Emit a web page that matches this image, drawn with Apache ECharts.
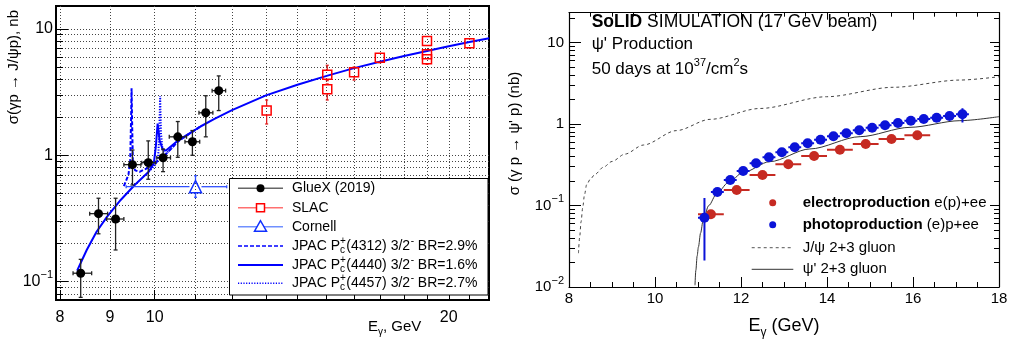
<!DOCTYPE html>
<html><head><meta charset="utf-8">
<script src="https://cdn.jsdelivr.net/npm/echarts@6/dist/echarts.min.js"></script>
<style>html,body{margin:0;padding:0;background:#fff}#c{width:1011px;height:340px}</style>
</head><body><div id="c"></div>
<script>
// ================= LEFT PANEL DATA =================
const gluexE       = [8.40, 8.76, 9.12, 9.49, 9.85, 10.20, 10.56, 10.93, 11.28, 11.63];
const gluexSigma   = [0.1165, 0.345, 0.313, 0.843, 0.874, 0.957, 1.40, 1.28, 2.17, 3.25];
const gluexSigmaLo = [0.075, 0.239, 0.178, 0.582, 0.646, 0.742, 0.964, 1.00, 1.40, 2.26];
const gluexSigmaHi = [0.150, 0.457, 0.457, 1.10, 1.30, 1.12, 1.85, 1.57, 2.96, 4.25];
const gluexELo     = [8.25, 8.58, 8.93, 9.30, 9.70, 10.05, 10.35, 10.74, 11.10, 11.45];
const gluexEHi     = [8.62, 8.95, 9.30, 9.68, 10.02, 10.38, 10.78, 11.12, 11.47, 11.82];

const slacE       = [13.02, 15.02, 15.02, 16.0, 17.0, 19.0, 19.0, 19.0, 21.0];
const slacSigma   = [2.26, 4.35, 3.33, 4.54, 5.93, 8.03, 6.31, 5.75, 7.70];
const slacSigmaLo = [1.77, 3.90, 2.74, 3.94, 5.40, 7.50, 5.85, 5.25, 7.20];
const slacSigmaHi = [2.74, 5.16, 3.67, 5.00, 6.40, 8.60, 6.80, 6.20, 8.20];

const cornellE       = [11.01];
const cornellSigma   = [0.564];
const cornellSigmaLo = [0.465];
const cornellSigmaHi = [0.689];
const cornellELo     = [9.35];
const cornellEHi     = [11.85];

const jpac4440E     = [8.33, 8.52, 8.72, 8.94, 9.23, 9.54, 9.86, 9.98, 10.03, 10.07, 10.12, 10.19, 10.27, 10.58, 11.14, 11.5, 12.0, 13.0, 14.0, 15.0, 16.0, 17.0, 18.0, 19.0, 20.0, 21.0, 22.0];
const jpac4440Sigma = [0.122, 0.178, 0.248, 0.327, 0.443, 0.582, 0.742, 0.86, 1.20, 1.78, 1.30, 1.12, 1.09, 1.32, 1.69, 1.93, 2.28, 2.98, 3.62, 4.25, 4.90, 5.50, 6.10, 6.70, 7.30, 7.90, 8.45];
const jpac4312E     = [9.30, 9.40, 9.44, 9.46, 9.47, 9.48, 9.50, 9.55, 9.65, 9.86, 10.0, 10.27, 10.58, 11.14];
const jpac4312Sigma = [0.57, 0.70, 0.90, 2.0, 3.4, 2.0, 0.85, 0.76, 0.74, 0.80, 0.86, 1.02, 1.30, 1.69];
const jpac4457E     = [9.86, 10.0, 10.08, 10.11, 10.13, 10.15, 10.19, 10.27, 10.58, 11.14];
const jpac4457Sigma = [0.742, 0.83, 0.93, 1.5, 2.95, 1.5, 1.08, 1.03, 1.30, 1.69];

const leftXGridTicks = [8, 9, 10, 11, 12, 13, 14, 15, 16, 17, 18, 19, 20, 21];
const leftXLabels    = [8, 9, 10, 20];
const leftYGridTicks = [0.08, 0.09, 0.1, 0.2, 0.3, 0.4, 0.5, 0.6, 0.7, 0.8, 0.9, 1, 2, 3, 4, 5, 6, 7, 8, 9, 10];
const leftYLabels    = [0.1, 1, 10];
const leftLegendNames = ['GlueX (2019)', 'SLAC', 'Cornell'];
const jpacStates = ['4312', '4440', '4457'];
const jpacBR     = ['2.9%', '1.6%', '2.7%'];

// ================= RIGHT PANEL DATA =================
const photoE       = [11.15, 11.45, 11.75, 12.05, 12.35, 12.65, 12.95, 13.25, 13.55, 13.85, 14.15, 14.45, 14.75, 15.05, 15.35, 15.65, 15.95, 16.25, 16.55, 16.85, 17.15];
const photoSigma   = [0.0709, 0.1465, 0.2056, 0.265, 0.3295, 0.390, 0.4496, 0.5177, 0.580, 0.642, 0.7066, 0.769, 0.837, 0.901, 0.964, 1.029, 1.098, 1.152, 1.195, 1.254, 1.315];
const photoSigmaLo = [0.0212, 0.140, 0.199, 0.258, 0.322, 0.382, 0.441, 0.508, 0.570, 0.631, 0.694, 0.756, 0.823, 0.886, 0.948, 1.011, 1.078, 1.131, 1.172, 1.227, 1.04];
const photoSigmaHi = [0.124, 0.153, 0.212, 0.272, 0.337, 0.398, 0.458, 0.527, 0.590, 0.653, 0.719, 0.782, 0.851, 0.916, 0.980, 1.047, 1.118, 1.173, 1.218, 1.281, 1.56];
const photoELo     = [11.00, 11.30, 11.60, 11.90, 12.20, 12.50, 12.80, 13.10, 13.40, 13.70, 14.00, 14.30, 14.60, 14.90, 15.20, 15.50, 15.80, 16.10, 16.40, 16.70, 17.00];
const photoEHi     = [11.30, 11.60, 11.90, 12.20, 12.50, 12.80, 13.10, 13.40, 13.70, 14.00, 14.30, 14.60, 14.90, 15.20, 15.50, 15.80, 16.10, 16.40, 16.70, 17.00, 17.30];

const electroE       = [11.3, 11.9, 12.5, 13.1, 13.7, 14.3, 14.9, 15.5, 16.1];
const electroSigma   = [0.078, 0.155, 0.237, 0.320, 0.405, 0.484, 0.568, 0.655, 0.727];
const electroSigmaLo = [0.070, 0.149, 0.229, 0.311, 0.394, 0.472, 0.555, 0.640, 0.711];
const electroSigmaHi = [0.087, 0.161, 0.245, 0.329, 0.416, 0.496, 0.581, 0.670, 0.743];
const electroELo     = [11.0, 11.6, 12.2, 12.8, 13.4, 14.0, 14.6, 15.2, 15.8];
const electroEHi     = [11.6, 12.2, 12.8, 13.4, 14.0, 14.6, 15.2, 15.8, 16.4];

const jpsiE     = [8.22, 8.25, 8.28, 8.32, 8.36, 8.41, 8.50, 8.60, 8.80, 9.00, 9.30, 9.73, 10.50, 11.28, 12.44, 13.99, 15.54, 17.09, 18.0];
const jpsiSigma = [0.026, 0.042, 0.063, 0.095, 0.135, 0.180, 0.212, 0.24, 0.295, 0.347, 0.427, 0.552, 0.83, 1.14, 1.55, 2.16, 2.82, 3.46, 3.80];
const psi2sE     = [10.93, 10.95, 10.98, 11.01, 11.06, 11.12, 11.25, 11.43, 11.70, 12.05, 12.67, 13.60, 14.77, 15.93, 17.09, 18.0];
const psi2sSigma = [0.0105, 0.016, 0.024, 0.031, 0.046, 0.066, 0.10, 0.138, 0.19, 0.255, 0.345, 0.494, 0.699, 0.91, 1.098, 1.23];

const rightYMinorTicks = [0.02,0.03,0.04,0.05,0.06,0.07,0.08,0.09,0.2,0.3,0.4,0.5,0.6,0.7,0.8,0.9,2,3,4,5,6,7,8,9,20];
const rightYLabels = [0.01, 0.1, 1, 10];

// ================= BUILD =================
const FONT = 'Liberation Sans';
const chart = echarts.init(document.getElementById('c'), null, {renderer: 'canvas', width: 1011, height: 340});
const ctx = document.createElement('canvas').getContext('2d');
function tw(t, size, weight) { ctx.font = (weight || 'normal') + ' ' + size + 'px "' + FONT + '"'; return ctx.measureText(t).width; }

const zip = (a, b) => a.map((v, i) => [v, b[i]]);

function errSeries(xi, yi, E, S, Slo, Shi, Elo, Ehi, color, lw, gap, cap) {
  return {
    type: 'custom', xAxisIndex: xi, yAxisIndex: yi, clip: true, silent: true, z: 3,
    data: E.map((e, i) => [e, S[i], Slo[i], Shi[i], Elo[i], Ehi[i]]),
    renderItem(params, api) {
      const c = api.coord([api.value(0), api.value(1)]);
      const lo = api.coord([api.value(0), api.value(2)]);
      const hi = api.coord([api.value(0), api.value(3)]);
      const l = api.coord([api.value(4), api.value(1)]);
      const r = api.coord([api.value(5), api.value(1)]);
      const st = {stroke: color, lineWidth: lw};
      const ch = [];
      const seg = (x1, y1, x2, y2) => ch.push({type: 'line', shape: {x1, y1, x2, y2}, style: st});
      if (hi[1] < c[1] - gap) { seg(c[0], hi[1], c[0], c[1] - gap); if (cap) seg(c[0] - cap, hi[1], c[0] + cap, hi[1]); }
      if (lo[1] > c[1] + gap) { seg(c[0], c[1] + gap, c[0], lo[1]); if (cap) seg(c[0] - cap, lo[1], c[0] + cap, lo[1]); }
      if (l[0] < c[0] - gap) { seg(l[0], c[1], c[0] - gap, c[1]); if (cap) seg(l[0], c[1] - cap, l[0], c[1] + cap); }
      if (r[0] > c[0] + gap) { seg(c[0] + gap, c[1], r[0], c[1]); if (cap) seg(r[0], c[1] - cap, r[0], c[1] + cap); }
      return {type: 'group', children: ch};
    }
  };
}
function lineSeries(xi, yi, E, S, color, width, type, smooth) {
  return {type: 'line', xAxisIndex: xi, yAxisIndex: yi, data: zip(E, S), symbol: 'none', showSymbol: false,
    clip: true, silent: true, smooth: smooth || false, smoothMonotone: 'x', z: 2,
    lineStyle: {color, width, type}};
}
function scatterSeries(xi, yi, E, S, symbol, size, fill, stroke, bw) {
  return {type: 'scatter', xAxisIndex: xi, yAxisIndex: yi, data: zip(E, S), symbol, symbolSize: size,
    silent: true, clip: true, z: 4,
    itemStyle: {color: fill, borderColor: stroke, borderWidth: bw, opacity: 1}};
}
function logLabel(v) {
  const e = Math.round(Math.log10(v));
  if (e < 0) return '{b|10}{s|\u2212' + (-e) + '}';
  return '{b|' + Math.round(v) + '}';
}
const tickStyle = {color: '#000', width: 1};

// Left panel extents
const LX = [7.925, 21.99], LY = [0.0715, 15.2];
const RY = [0.01, 23.2];

const xAxes = [
  {gridIndex: 0, type: 'log', min: LX[0], max: LX[1], position: 'bottom',
    axisLine: {show: true, onZero: false, lineStyle: {color: '#000', width: 2}},
    axisTick: {show: true, inside: true, length: 5, customValues: leftXGridTicks, lineStyle: tickStyle},
    axisLabel: {show: true, customValues: leftXLabels, formatter: v => String(Math.round(v)), fontSize: 16, color: '#000', margin: 10, fontFamily: FONT},
    splitLine: {show: true, lineStyle: {color: '#444', width: 1, type: [1, 2]}}},
  {gridIndex: 0, type: 'log', min: LX[0], max: LX[1], position: 'bottom',
    axisLine: {show: false}, axisTick: {show: true, inside: true, length: 10, customValues: leftXLabels, lineStyle: tickStyle},
    axisLabel: {show: false}, splitLine: {show: false}},
  {gridIndex: 1, type: 'value', min: 8, max: 18, interval: 2, position: 'bottom',
    axisLine: {show: true, onZero: false, lineStyle: {color: '#000', width: 1.2}},
    axisTick: {show: true, inside: true, length: 10, lineStyle: tickStyle},
    minorTick: {show: true, splitNumber: 4, length: 5, lineStyle: tickStyle},
    axisLabel: {show: true, fontSize: 15, color: '#000', margin: 4, fontFamily: FONT},
    splitLine: {show: false}, minorSplitLine: {show: false}},
  {gridIndex: 1, type: 'value', min: 8, max: 18, interval: 2, position: 'top',
    axisLine: {show: true, onZero: false, lineStyle: {color: '#000', width: 1.2}},
    axisTick: {show: true, inside: true, length: 7, lineStyle: tickStyle},
    minorTick: {show: true, splitNumber: 4, length: 4, lineStyle: tickStyle},
    axisLabel: {show: false}, splitLine: {show: false}, minorSplitLine: {show: false}}
];
const yAxes = [
  {gridIndex: 0, type: 'log', min: LY[0], max: LY[1], position: 'left',
    axisLine: {show: true, onZero: false, lineStyle: {color: '#000', width: 2}},
    axisTick: {show: true, inside: true, length: 7, customValues: leftYGridTicks, lineStyle: tickStyle},
    axisLabel: {show: true, customValues: leftYLabels, formatter: logLabel, margin: 3, color: '#000',
      rich: {b: {fontSize: 16, lineHeight: 24, fontFamily: FONT, color: '#000'},
             s: {fontSize: 11, lineHeight: 10, verticalAlign: 'top', fontFamily: FONT, color: '#000'}}},
    splitLine: {show: true, lineStyle: {color: '#444', width: 1, type: [1, 2]}}},
  {gridIndex: 0, type: 'log', min: LY[0], max: LY[1], position: 'left',
    axisLine: {show: false}, axisTick: {show: true, inside: true, length: 12, customValues: leftYLabels, lineStyle: tickStyle},
    axisLabel: {show: false}, splitLine: {show: false}},
  {gridIndex: 1, type: 'log', min: RY[0], max: RY[1], position: 'left',
    axisLine: {show: true, onZero: false, lineStyle: {color: '#000', width: 1.2}},
    axisTick: {show: true, inside: true, length: 6, customValues: rightYMinorTicks, lineStyle: tickStyle},
    axisLabel: {show: true, customValues: rightYLabels, formatter: logLabel, margin: 5, color: '#000',
      rich: {b: {fontSize: 15, lineHeight: 24, fontFamily: FONT, color: '#000'},
             s: {fontSize: 11, lineHeight: 10, verticalAlign: 'top', fontFamily: FONT, color: '#000'}}},
    splitLine: {show: false}},
  {gridIndex: 1, type: 'log', min: RY[0], max: RY[1], position: 'left',
    axisLine: {show: false}, axisTick: {show: true, inside: true, length: 12, customValues: rightYLabels, lineStyle: tickStyle},
    axisLabel: {show: false}, splitLine: {show: false}},
  {gridIndex: 1, type: 'log', min: RY[0], max: RY[1], position: 'right',
    axisLine: {show: true, onZero: false, lineStyle: {color: '#000', width: 1.2}},
    axisTick: {show: true, inside: true, length: 5, customValues: rightYMinorTicks, lineStyle: tickStyle},
    axisLabel: {show: false}, splitLine: {show: false}},
  {gridIndex: 1, type: 'log', min: RY[0], max: RY[1], position: 'right',
    axisLine: {show: false}, axisTick: {show: true, inside: true, length: 9, customValues: rightYLabels, lineStyle: tickStyle},
    axisLabel: {show: false}, splitLine: {show: false}}
];

const RED = '#c62a22', BLUE = '#0b13d8', JBLUE = '#0000ff';
const series = [
  lineSeries(0, 0, jpac4312E, jpac4312Sigma, JBLUE, 2, [4, 2]),
  lineSeries(0, 0, jpac4457E, jpac4457Sigma, JBLUE, 2, [1.2, 1.5]),
  lineSeries(0, 0, jpac4440E, jpac4440Sigma, JBLUE, 2, 'solid'),
  errSeries(0, 0, gluexE, gluexSigma, gluexSigmaLo, gluexSigmaHi, gluexELo, gluexEHi, '#222', 1.3, 0, 2),
  scatterSeries(0, 0, gluexE, gluexSigma, 'circle', 9, '#000', '#000', 0),
  errSeries(0, 0, slacE, slacSigma, slacSigmaLo, slacSigmaHi, slacE, slacE, '#e02020', 1.3, 4.5, 1.5),
  scatterSeries(0, 0, slacE, slacSigma, 'rect', 9, 'rgba(255,255,255,0)', '#ff0000', 1.5),
  errSeries(0, 0, cornellE, cornellSigma, cornellSigmaLo, cornellSigmaHi, cornellELo, cornellEHi, '#3050ff', 1.3, 6, 1.5),
  scatterSeries(0, 0, cornellE, cornellSigma, 'triangle', 12, 'rgba(255,255,255,0)', '#1030ff', 1.5),

  lineSeries(2, 2, jpsiE, jpsiSigma, '#444', 1, [3, 3], 0.3),
  lineSeries(2, 2, psi2sE, psi2sSigma, '#333', 1, 'solid', 0.3),
  errSeries(2, 2, electroE, electroSigma, electroSigmaLo, electroSigmaHi, electroELo, electroEHi, RED, 2, 0, 0),
  scatterSeries(2, 2, electroE, electroSigma, 'circle', 10, RED, RED, 0),
  errSeries(2, 2, photoE, photoSigma, photoSigmaLo, photoSigmaHi, photoELo, photoEHi, BLUE, 2, 0, 0),
  scatterSeries(2, 2, photoE, photoSigma, 'circle', 10, BLUE, BLUE, 0)
];

// ---------- graphic (legends, titles, annotations) ----------
function txt(x, y, text, size, o) {
  o = o || {};
  const st = {text, fontSize: size, fontFamily: FONT, fill: '#000', fontWeight: o.weight || 'normal',
    align: o.align || 'left', verticalAlign: o.va || 'middle', textAlign: o.align || 'left', textVerticalAlign: o.va || 'middle'};
  if (o.rich) { st.rich = o.rich; st.lineHeight = o.lh || 24; }
  return {type: 'text', x, y, rotation: o.rot || 0, silent: true, z: 101, style: st};
}
function ln(x1, y1, x2, y2, stroke, w, dash) {
  return {type: 'line', silent: true, z: 101, shape: {x1, y1, x2, y2}, style: {stroke, lineWidth: w, lineDash: dash || null}};
}
const G = [];
// left legend
const LG = {x: 229.5, y: 178.5, w: 258.5, h: 116.5, rows: [188.3, 207.7, 226.7, 246, 265, 283.3], lx1: 238, lx2: 283, tx: 292};
G.push({type: 'rect', silent: true, z: 100, shape: {x: LG.x, y: LG.y, width: LG.w, height: LG.h}, style: {fill: '#fff', stroke: '#000', lineWidth: 1}});
const mx = (LG.lx1 + LG.lx2) / 2;
let ry = LG.rows;
G.push(ln(LG.lx1, ry[0], LG.lx2, ry[0], '#666', 1.5));
G.push({type: 'circle', silent: true, z: 102, shape: {cx: mx, cy: ry[0], r: 4}, style: {fill: '#000'}});
G.push(ln(LG.lx1, ry[1], LG.lx2, ry[1], '#ff7070', 1.5));
G.push({type: 'rect', silent: true, z: 102, shape: {x: mx - 4, y: ry[1] - 4, width: 8, height: 8}, style: {fill: '#fff', stroke: '#ff0000', lineWidth: 1.5}});
G.push(ln(LG.lx1, ry[2], LG.lx2, ry[2], '#7090ff', 1.5));
G.push({type: 'polygon', silent: true, z: 102, shape: {points: [[mx, ry[2] - 6], [mx - 6, ry[2] + 4.5], [mx + 6, ry[2] + 4.5]]}, style: {fill: '#fff', stroke: '#1030ff', lineWidth: 1.5}});
G.push(ln(LG.lx1, ry[3], LG.lx2, ry[3], JBLUE, 1.5, [4, 2]));
G.push(ln(LG.lx1, ry[4], LG.lx2, ry[4], JBLUE, 2));
G.push(ln(LG.lx1, ry[5], LG.lx2, ry[5], JBLUE, 1.5, [1.2, 1.5]));
for (let i = 0; i < 3; i++) G.push(txt(LG.tx, ry[i], leftLegendNames[i], 14));
for (let i = 0; i < 3; i++) {
  const y = ry[3 + i];
  let cx = LG.tx;
  const f = 14, fs = 10;
  G.push(txt(cx, y, 'JPAC P', f)); cx += tw('JPAC P', f);
  G.push(txt(cx, y + 4, 'c', fs)); G.push(txt(cx, y - 5, '+', fs));
  cx += Math.max(tw('c', fs), tw('+', fs)) + 0.5;
  const mid = '(' + jpacStates[i] + ') 3/2';
  G.push(txt(cx, y, mid, f)); cx += tw(mid, f);
  G.push(txt(cx + 0.5, y - 5, '-', fs)); cx += tw('-', fs) + 0.5;
  G.push(txt(cx, y, ' BR=' + jpacBR[i], f));
}
// left titles
G.push(txt(14, 10, '\u03c3(\u03b3p \u2192 J/\u03c8p), nb', 15, {rot: Math.PI / 2, align: 'right'}));
G.push(txt(368, 326.7, 'E{sub|\u03b3}, GeV', 15, {rich: {sub: {fontSize: 10, lineHeight: 13, verticalAlign: 'bottom', fontFamily: FONT}}, lh: 22}));
// right titles
G.push(txt(515, 71.7, "\u03c3 (\u03b3 p \u2192 \u03c8' p) (nb)", 15, {rot: Math.PI / 2, align: 'right'}));
G.push(txt(784, 326, 'E{sub|\u03b3} (GeV)', 18, {align: 'center', rich: {sub: {fontSize: 12, lineHeight: 14, verticalAlign: 'bottom', fontFamily: FONT}}, lh: 26}));
// right annotations
const boldRich = {bold: {fontWeight: 'bold', fontSize: 17.5, fontFamily: FONT}};
const supRich = {s: {fontSize: 11, lineHeight: 10, verticalAlign: 'top', fontFamily: FONT}};
G.push(txt(591.7, 22.5, '{bold|SoLID} SIMULATION (17 GeV beam)', 17.5, {rich: boldRich}));
G.push(txt(591.7, 44.3, "\u03c8' Production", 17));
G.push(txt(591.7, 69.5, '50 days at 10{s|37}/cm{s|2}s', 17, {rich: supRich}));
// right legend
const RL = {dx: 772.7, lx1: 751.7, lx2: 793.3, tx: 802.7, rows: [202.8, 224.8, 247.7, 269.3]};
const legRich = {bold: {fontWeight: 'bold', fontSize: 15, fontFamily: FONT}};
G.push({type: 'circle', silent: true, z: 102, shape: {cx: RL.dx, cy: RL.rows[0], r: 3.5}, style: {fill: RED}});
G.push({type: 'circle', silent: true, z: 102, shape: {cx: RL.dx, cy: RL.rows[1], r: 3.5}, style: {fill: BLUE}});
G.push(ln(RL.lx1, RL.rows[2], RL.lx2, RL.rows[2], '#555', 1, [3, 3]));
G.push(ln(RL.lx1, RL.rows[3], RL.lx2, RL.rows[3], '#333', 1));
G.push(txt(RL.tx, RL.rows[0], '{bold|electroproduction} e(p)+ee', 15, {rich: legRich}));
G.push(txt(RL.tx, RL.rows[1], '{bold|photoproduction} (e)p+ee', 15, {rich: legRich}));
G.push(txt(RL.tx, RL.rows[2], 'J/\u03c8 2+3 gluon', 15));
G.push(txt(RL.tx, RL.rows[3], "\u03c8' 2+3 gluon", 15));

chart.setOption({
  animation: false,
  backgroundColor: '#fff',
  textStyle: {fontFamily: FONT},
  grid: [
    {left: 56, top: 6, width: 433, height: 294, show: true, borderColor: '#000', borderWidth: 2, backgroundColor: 'rgba(0,0,0,0)', containLabel: false, outerBoundsMode: 'none'},
    {left: 569, top: 12.7, width: 430, height: 274.3, show: false, containLabel: false, outerBoundsMode: 'none'}
  ],
  xAxis: xAxes,
  yAxis: yAxes,
  series,
  graphic: {elements: G}
});
</script>
</body></html>
